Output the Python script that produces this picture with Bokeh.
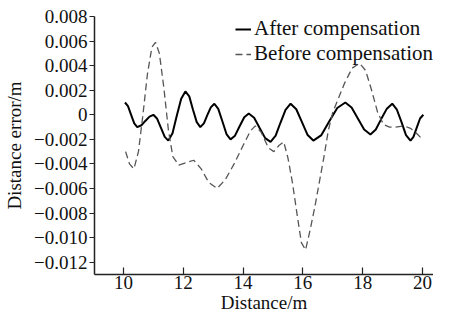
from bokeh.plotting import figure
from bokeh.models import FixedTicker, Range1d, Legend, LegendItem
from bokeh.embed import file_html
from bokeh.resources import INLINE

# After compensation (solid)
after_x = [10.05, 10.15, 10.255, 10.36, 10.46, 10.6, 10.73, 10.87, 11.0, 11.12, 11.25, 11.38,
           11.5, 11.64, 11.78, 11.93, 12.07, 12.2, 12.32, 12.45, 12.57, 12.69, 12.8, 12.92,
           13.04, 13.17, 13.31, 13.45, 13.58, 13.73, 13.88, 14.04, 14.19, 14.37, 14.55, 14.74,
           14.92, 15.09, 15.25, 15.42, 15.59, 15.78, 15.97, 16.16, 16.35, 16.62, 16.88, 17.15,
           17.42, 17.63, 17.84, 18.05, 18.26, 18.44, 18.62, 18.81, 18.99, 19.14, 19.3, 19.45,
           19.6, 19.7, 19.81, 19.92, 20.03]
after_y = [0.001, 0.0007, 0.0, -0.0007, -0.001, -0.00085, -0.0005, -0.00015, 0.0, -0.0003, -0.00105, -0.0018,
           -0.0021, -0.0015, -0.0001, 0.0013, 0.0019, 0.0015, 0.00045, -0.0006, -0.001, -0.0007, -0.00005, 0.0006,
           0.0009, 0.00048, -0.00055, -0.0016, -0.002, -0.0017, -0.00095, -0.0002, 0.0001, -0.00024, -0.00105, -0.0019,
           -0.0022, -0.0017, -0.00065, 0.0004, 0.0009, 0.00045, -0.0006, -0.00165, -0.0021, -0.00165, -0.00055, 0.00055,
           0.001, 0.0006, -0.0003, -0.0012, -0.0016, -0.0012, -0.00035, 0.0005, 0.0009, 0.00045, -0.0006, -0.00165,
           -0.0021, -0.0018, -0.00105, -0.0003, 0.0]

# Before compensation (dashed)
before_x = [10.07, 10.2, 10.35, 10.5, 10.65, 10.8, 10.95, 11.07, 11.2, 11.35, 11.5, 11.65,
            11.85, 12.1, 12.35, 12.6, 12.85, 13.13, 13.4, 13.7, 14.0, 14.25, 14.41, 14.6,
            14.85, 15.03, 15.2, 15.36, 15.5, 15.65, 15.8, 15.95, 16.09, 16.25, 16.4, 16.55,
            16.7, 16.85, 17.0, 17.15, 17.4, 17.65, 17.9, 18.1, 18.3, 18.5, 18.7, 18.9,
            19.1, 19.38, 19.6, 19.8, 20.0]
before_y = [-0.003, -0.004, -0.0044, -0.003, 0.0, 0.0033, 0.0055, 0.0059, 0.005, 0.0022, -0.0012, -0.0034,
            -0.0041, -0.0039, -0.0037, -0.0044, -0.0055, -0.006, -0.0053, -0.004, -0.0025, -0.0013, -0.0009, -0.0014,
            -0.0027, -0.003, -0.0025, -0.0022, -0.0035, -0.0055, -0.008, -0.0104, -0.011, -0.0093, -0.0075, -0.0055,
            -0.0035, -0.0013, 0.0002, 0.0011, 0.0026, 0.0038, 0.0042, 0.0036, 0.002, 0.0002, -0.0008, -0.001,
            -0.001, -0.0009, -0.0011, -0.0015, -0.002]

x_ticks = [10, 12, 14, 16, 18, 20]
y_ticks = [0.008, 0.006, 0.004, 0.002, 0.0, -0.002, -0.004, -0.006, -0.008, -0.010, -0.012]
y_tick_labels = ["0.008", "0.006", "0.004", "0.002", "0", "\u22120.002", "\u22120.004",
                 "\u22120.006", "\u22120.008", "\u22120.010", "\u22120.012"]

FONT = "Liberation Serif"

p = figure(width=433, height=315, output_backend="svg", toolbar_location=None,
           x_range=Range1d(9.03, 20.37), y_range=Range1d(-0.013, 0.008),
           min_border_left=94, min_border_right=0, min_border_top=16, min_border_bottom=30)
p.outline_line_color = None
p.grid.visible = False
p.background_fill_color = "white"
p.border_fill_color = "white"

r_after = p.line(after_x, after_y, line_color="black", line_width=2)
r_before = p.line(before_x, before_y, line_color="#555555", line_width=1.3, line_dash="7 4")

p.xaxis.ticker = FixedTicker(ticks=x_ticks)
p.yaxis.ticker = FixedTicker(ticks=y_ticks)
p.yaxis.major_label_overrides = {t: l for t, l in zip(y_ticks, y_tick_labels)}

for ax in (p.xaxis[0], p.yaxis[0]):
    ax.axis_line_color = "#222222"
    ax.axis_line_width = 1.5
    ax.major_tick_line_color = "#222222"
    ax.major_tick_line_width = 1.2
    ax.minor_tick_line_color = None
    ax.major_label_text_font = FONT
    ax.major_label_text_font_size = "19px"
    ax.major_label_text_color = "#111111"
    ax.axis_label_text_font = FONT
    ax.axis_label_text_font_size = "19px"
    ax.axis_label_text_font_style = "normal"
    ax.axis_label_text_color = "#111111"

p.xaxis.major_tick_in = 7
p.xaxis.major_tick_out = 0
p.xaxis.major_label_standoff = 1
p.xaxis.axis_label = "Distance/m"
p.xaxis.axis_label_standoff = 0

p.yaxis.major_tick_in = 0
p.yaxis.major_tick_out = 5
p.yaxis.major_label_standoff = 2
p.yaxis.axis_label = "Distance error/m"
p.yaxis.axis_label_standoff = 6

legend = Legend(items=[LegendItem(label="After compensation", renderers=[r_after]),
                       LegendItem(label="Before compensation", renderers=[r_before])],
                location="top_right")
legend.border_line_color = None
legend.background_fill_alpha = 0
legend.label_text_font = FONT
legend.label_text_font_size = "21px"
legend.label_text_color = "#111111"
legend.glyph_width = 16
legend.label_standoff = 3
legend.padding = 0
legend.spacing = 0
legend.margin = 0
p.add_layout(legend)

open("out.html", "w").write(file_html(p, INLINE))
